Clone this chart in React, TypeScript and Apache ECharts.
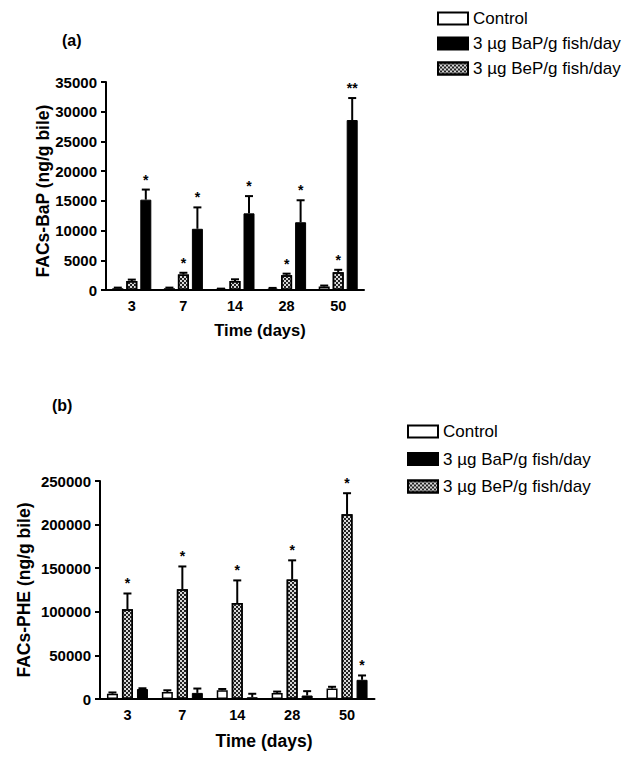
import React, { useEffect, useRef } from 'react';
import * as echarts from 'echarts';

const FONT = '"Liberation Sans", Arial, Helvetica, sans-serif';

const categories = ['3', '7', '14', '28', '50'];
const seriesNames = ['Control', '3 µg BaP/g fish/day', '3 µg BeP/g fish/day'];

// Panel (a): FACs-BaP
const yTicksA = { min: 0, max: 35000, interval: 5000 };
const ctrlA = [300, 300, 150, 250, 600];
const ctrlAErr = [100, 100, 80, 100, 150];
const bepA = [1500, 2600, 1500, 2500, 3000];
const bepAErr = [250, 300, 300, 250, 400];
const bapA = [15200, 10300, 12900, 11400, 28600];
const bapAErr = [1700, 3600, 2900, 3700, 3700];
const ctrlAStars = ['', '', '', '', ''];
const bepAStars = ['', '*', '', '*', '*'];
const bapAStars = ['*', '*', '*', '*', '**'];

// Panel (b): FACs-PHE
const yTicksB = { min: 0, max: 250000, interval: 50000 };
const ctrlB = [6000, 8000, 10000, 7000, 12000];
const ctrlBErr = [1500, 2000, 1500, 1500, 2000];
const bepB = [103000, 126000, 110000, 137000, 212000];
const bepBErr = [18000, 26000, 26000, 22000, 24000];
const bapB = [11500, 7000, 2000, 4000, 22000];
const bapBErr = [800, 5000, 4000, 5000, 5000];
const ctrlBStars = ['', '', '', '', ''];
const bepBStars = ['*', '*', '*', '*', '*'];
const bapBStars = ['', '', '', '', '*'];

const BAR_W = 11;

const checkerDecal = {
  symbol: 'rect',
  symbolSize: 1,
  dashArrayX: [[2, 2], [0, 2, 2, 0]],
  dashArrayY: [2, 0],
  color: '#222',
  rotation: 0,
};

const styles: any = {
  Control: { color: '#fff', borderColor: '#000', borderWidth: 1.5 },
  '3 µg BaP/g fish/day': { color: '#000', borderColor: '#000', borderWidth: 1 },
  '3 µg BeP/g fish/day': { color: '#d8d8d8', borderColor: '#000', borderWidth: 1.5, decal: checkerDecal },
};

function barSeries(name: string, gi: number, values: number[], gap: string) {
  return {
    type: 'bar',
    name,
    xAxisIndex: gi,
    yAxisIndex: gi,
    data: values,
    barWidth: BAR_W,
    barGap: gap,
    itemStyle: styles[name],
    emphasis: { disabled: true },
  };
}

function errSeries(name: string, gi: number, values: number[], errs: number[], stars: string[], offset: number) {
  return {
    type: 'custom',
    name,
    xAxisIndex: gi,
    yAxisIndex: gi,
    clip: false,
    z: 5,
    data: values.map((v, i) => [i, v, v + errs[i]]),
    renderItem: (params: any, api: any) => {
      const i = api.value(0);
      const base = api.coord([i, api.value(1)]);
      const top = api.coord([i, api.value(2)]);
      const x = base[0] + offset;
      const children: any[] = [
        { type: 'line', shape: { x1: x, y1: base[1], x2: x, y2: top[1] }, style: { stroke: '#000', lineWidth: 2 } },
        { type: 'line', shape: { x1: x - 4, y1: top[1], x2: x + 4, y2: top[1] }, style: { stroke: '#000', lineWidth: 2 } },
      ];
      const s = stars[params.dataIndex];
      if (s) {
        children.push({
          type: 'text',
          x,
          y: top[1] - 3,
          style: { text: s, fill: '#000', font: `bold 14px ${FONT}`, align: 'center', verticalAlign: 'bottom' },
        });
      }
      return { type: 'group', children };
    },
  };
}

function xAxisDef(gi: number) {
  return {
    type: 'category',
    gridIndex: gi,
    data: categories,
    axisLine: { lineStyle: { color: '#000', width: 2 } },
    axisTick: { alignWithLabel: true, length: 5, lineStyle: { color: '#000', width: 2 } },
    axisLabel: { color: '#000', fontWeight: 'bold', fontSize: 14.5, fontFamily: FONT, margin: 8 },
    splitLine: { show: false },
  };
}

function yAxisDef(gi: number, t: { min: number; max: number; interval: number }, margin: number) {
  return {
    type: 'value',
    gridIndex: gi,
    min: t.min,
    max: t.max,
    interval: t.interval,
    axisLine: { show: true, lineStyle: { color: '#000', width: 2 } },
    axisTick: { show: true, length: 5, lineStyle: { color: '#000', width: 2 } },
    axisLabel: {
      color: '#000',
      fontWeight: 'bold',
      fontSize: 15,
      fontFamily: FONT,
      margin,
      formatter: (v: number) => String(v),
    },
    splitLine: { show: false },
  };
}

function legendDef(left: number, top: number, gap: number) {
  return {
    data: [seriesNames[0], seriesNames[1], seriesNames[2]],
    orient: 'vertical',
    left,
    top,
    padding: 0,
    itemWidth: 30,
    itemHeight: 12,
    itemGap: gap,
    icon: 'rect',
    selectedMode: false,
    textStyle: { fontSize: 17, color: '#000', fontFamily: FONT },
  };
}

export default function App() {
  const ref = useRef<HTMLDivElement>(null);
  useEffect(() => {
    if (!ref.current) return;
    const chart = echarts.init(ref.current, null, { renderer: 'svg' });
    const offA = BAR_W + 3;
    const offB = BAR_W + 4;
    const gapA = ((3 / BAR_W) * 100).toFixed(1) + '%';
    const gapB = ((4 / BAR_W) * 100).toFixed(1) + '%';
    chart.setOption({
      animation: false,
      backgroundColor: '#fff',
      textStyle: { fontFamily: FONT },
      grid: [
        { left: 106, top: 82, width: 258, height: 208 },
        { left: 100, top: 481, width: 274.5, height: 218 },
      ],
      xAxis: [xAxisDef(0), xAxisDef(1)],
      yAxis: [yAxisDef(0, yTicksA, 9), yAxisDef(1, yTicksB, 9)],
      legend: [legendDef(437, 10, 8), legendDef(407, 423, 10.5)],
      series: [
        barSeries(seriesNames[0], 0, ctrlA, gapA),
        barSeries(seriesNames[2], 0, bepA, gapA),
        barSeries(seriesNames[1], 0, bapA, gapA),
        errSeries('errCtrlA', 0, ctrlA, ctrlAErr, ctrlAStars, -offA),
        errSeries('errBepA', 0, bepA, bepAErr, bepAStars, 0),
        errSeries('errBapA', 0, bapA, bapAErr, bapAStars, offA),
        barSeries(seriesNames[0], 1, ctrlB, gapB),
        barSeries(seriesNames[2], 1, bepB, gapB),
        barSeries(seriesNames[1], 1, bapB, gapB),
        errSeries('errCtrlB', 1, ctrlB, ctrlBErr, ctrlBStars, -offB),
        errSeries('errBepB', 1, bepB, bepBErr, bepBStars, 0),
        errSeries('errBapB', 1, bapB, bapBErr, bapBStars, offB),
      ],
      graphic: [
        { type: 'text', x: 62, y: 40, style: { text: '(a)', font: `bold 16px ${FONT}`, fill: '#000', align: 'left', verticalAlign: 'middle' } },
        { type: 'text', x: 52, y: 405, style: { text: '(b)', font: `bold 16px ${FONT}`, fill: '#000', align: 'left', verticalAlign: 'middle' } },
        { type: 'text', x: 43, y: 191, rotation: Math.PI / 2, style: { text: 'FACs-BaP (ng/g bile)', font: `bold 17.5px ${FONT}`, fill: '#000', align: 'center', verticalAlign: 'middle' } },
        { type: 'text', x: 24, y: 590, rotation: Math.PI / 2, style: { text: 'FACs-PHE (ng/g bile)', font: `bold 17.5px ${FONT}`, fill: '#000', align: 'center', verticalAlign: 'middle' } },
        { type: 'text', x: 260, y: 330, style: { text: 'Time (days)', font: `bold 16.5px ${FONT}`, fill: '#000', align: 'center', verticalAlign: 'middle' } },
        { type: 'text', x: 264, y: 741, style: { text: 'Time (days)', font: `bold 17.5px ${FONT}`, fill: '#000', align: 'center', verticalAlign: 'middle' } },
      ],
    });
    return () => chart.dispose();
  }, []);
  return <div ref={ref} style={{ position: 'absolute', left: 0, top: 0, width: 629, height: 764 }} />;
}
